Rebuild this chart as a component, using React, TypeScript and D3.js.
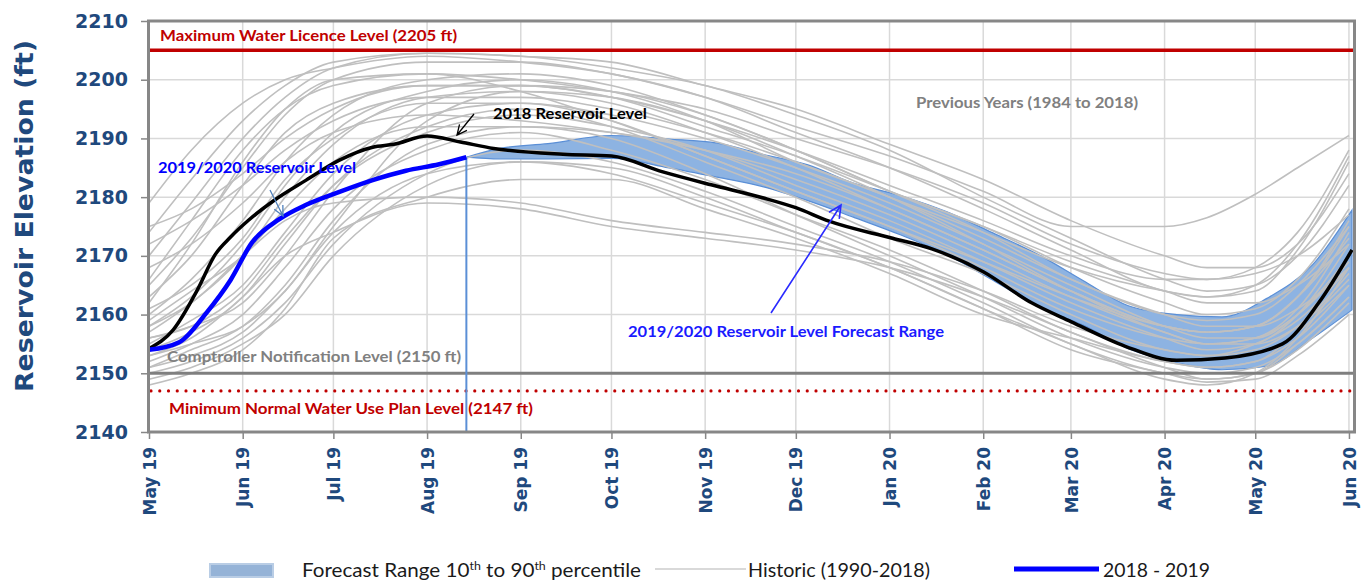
import React, { useRef, useEffect } from 'react';
import * as d3 from 'd3';

// axis ticks
const monthTicks = [
  '2019-05-01', '2019-06-01', '2019-07-01', '2019-08-01', '2019-09-01', '2019-10-01', '2019-11-01',
  '2019-12-01', '2020-01-01', '2020-02-01', '2020-03-01', '2020-04-01', '2020-05-01', '2020-06-01',
];
const monthLabels = [
  'May 19', 'Jun 19', 'Jul 19', 'Aug 19', 'Sep 19', 'Oct 19', 'Nov 19',
  'Dec 19', 'Jan 20', 'Feb 20', 'Mar 20', 'Apr 20', 'May 20', 'Jun 20',
];
const elevationTicks = [2140, 2150, 2160, 2170, 2180, 2190, 2200, 2210];

// reference levels (ft)
const maxLicenceLevel = 2205;
const comptrollerLevel = 2150;
const minWaterUseLevel = 2147;

// 2018 reservoir level (black)
const level2018: [string, number][] = [
  ['2019-05-01', 2154.2], ['2019-05-09', 2157.4], ['2019-05-17', 2164.2], ['2019-05-23', 2170.3],
  ['2019-05-28', 2173.2], ['2019-06-03', 2176.1], ['2019-06-11', 2179.3], ['2019-06-22', 2182.9],
  ['2019-07-03', 2186.3], ['2019-07-14', 2188.5], ['2019-07-21', 2189.0], ['2019-08-01', 2190.4],
  ['2019-08-12', 2189.4], ['2019-08-23', 2188.3], ['2019-09-15', 2187.3], ['2019-10-01', 2187.0],
  ['2019-10-18', 2184.3], ['2019-11-03', 2182.1], ['2019-11-20', 2179.9], ['2019-12-01', 2178.2],
  ['2019-12-12', 2175.9], ['2020-01-02', 2173.0], ['2020-01-15', 2171.2], ['2020-02-01', 2167.3],
  ['2020-02-17', 2162.0], ['2020-03-01', 2158.8], ['2020-03-19', 2154.6], ['2020-04-05', 2152.2],
  ['2020-04-21', 2152.6], ['2020-05-10', 2155.0], ['2020-05-22', 2162.0], ['2020-06-02', 2171.0],
];

// 2019/2020 observed level (blue)
const level2019: [string, number][] = [
  ['2019-05-01', 2154.0], ['2019-05-11', 2155.3], ['2019-05-20', 2160.3], ['2019-05-28', 2165.9],
  ['2019-06-04', 2172.2], ['2019-06-13', 2176.2], ['2019-06-22', 2178.7], ['2019-07-03', 2180.9],
  ['2019-07-14', 2182.9], ['2019-07-25', 2184.5], ['2019-08-05', 2185.6], ['2019-08-14', 2186.8],
];

// forecast range 10th - 90th percentile
const forecastDates = [
  '2019-08-14', '2019-08-25', '2019-09-10', '2019-10-01', '2019-10-20', '2019-11-05', '2019-11-20',
  '2019-12-05', '2019-12-20', '2020-01-05', '2020-01-20', '2020-02-05', '2020-02-20', '2020-03-05',
  '2020-03-20', '2020-04-05', '2020-04-20', '2020-05-05', '2020-05-20', '2020-06-02',
];
const forecastLow = [
  2186.8, 2186.5, 2186.5, 2186.6, 2185.0, 2183.4, 2181.8, 2179.4, 2176.6, 2173.5,
  2170.2, 2165.6, 2161.2, 2158.2, 2154.2, 2151.8, 2150.6, 2151.2, 2156.0, 2160.8,
];
const forecastHigh = [
  2186.8, 2188.3, 2189.1, 2190.5, 2189.9, 2189.2, 2187.3, 2185.5, 2182.4, 2180.2,
  2177.5, 2173.7, 2170.0, 2165.8, 2161.5, 2160.0, 2159.6, 2162.8, 2168.5, 2177.8,
];

// previous years (grey)
const historicDates = [
  '2019-05-01', '2019-05-15', '2019-06-01', '2019-06-15', '2019-07-01', '2019-08-01', '2019-09-01',
  '2019-10-01', '2019-11-01', '2019-12-01', '2020-01-01', '2020-02-01', '2020-03-01', '2020-04-01',
  '2020-04-15', '2020-05-01', '2020-05-15', '2020-06-01',
];
const historicYears = [
  [2179, 2188, 2196, 2200, 2202, 2204, 2203, 2201, 2197, 2192, 2187, 2181, 2175, 2175, 2176.5, 2180.5, 2185, 2190.5],
  [2174, 2183, 2193, 2199, 2203, 2204.5, 2204, 2203, 2199, 2195, 2189, 2183, 2176, 2170, 2168, 2168, 2172, 2184],
  [2170, 2179, 2190, 2197, 2202, 2204.5, 2204, 2202, 2199, 2194, 2188, 2180, 2173, 2166, 2164, 2165, 2170, 2182],
  [2165, 2173, 2185, 2194, 2200, 2203, 2203, 2201, 2197, 2191, 2185, 2178, 2171, 2164, 2163, 2164, 2171, 2186],
  [2162, 2172, 2186, 2195, 2200, 2201, 2198, 2193, 2187, 2181, 2175, 2169, 2163, 2158, 2157, 2158, 2163, 2175],
  [2160, 2166, 2176, 2186, 2194, 2200, 2201, 2199, 2194, 2188, 2181, 2175, 2168, 2162, 2160, 2161, 2166, 2178],
  [2158, 2163, 2172, 2182, 2191, 2198, 2200, 2198, 2193, 2186, 2180, 2173, 2166, 2160, 2159, 2160, 2165, 2175],
  [2157, 2162, 2170, 2180, 2189, 2197, 2198, 2196, 2191, 2185, 2178, 2171, 2164, 2158, 2157, 2158, 2163, 2173],
  [2156, 2158, 2162, 2170, 2181, 2196, 2199, 2198, 2194, 2188, 2181, 2174, 2166, 2160, 2158, 2158, 2161, 2168],
  [2155, 2159, 2165, 2174, 2184, 2194, 2196, 2193, 2187, 2181, 2175, 2168, 2161, 2156, 2155, 2156, 2160, 2170],
  [2154, 2157, 2163, 2172, 2182, 2192, 2195, 2192, 2186, 2180, 2173, 2167, 2160, 2154, 2153, 2155, 2159, 2168],
  [2153, 2155, 2158, 2164, 2175, 2193, 2198, 2197, 2193, 2187, 2180, 2172, 2164, 2157, 2155, 2155, 2158, 2166],
  [2152, 2155, 2160, 2168, 2178, 2188, 2191, 2188, 2183, 2177, 2171, 2164, 2157, 2152, 2151, 2152, 2156, 2165],
  [2151, 2154, 2158, 2165, 2176, 2189, 2192, 2190, 2184, 2177, 2170, 2163, 2156, 2151, 2150, 2151, 2155, 2163],
  [2150, 2152, 2156, 2162, 2172, 2184, 2188, 2186, 2181, 2175, 2169, 2162, 2155, 2150, 2149, 2150, 2154, 2162],
  [2149, 2151, 2155, 2160, 2170, 2182, 2186, 2185, 2180, 2174, 2168, 2161, 2154, 2150, 2148.5, 2149, 2153, 2160],
  [2148, 2150, 2154, 2161, 2173, 2180, 2183, 2183, 2178, 2173, 2167, 2160, 2156, 2152, 2151, 2152, 2157, 2165],
  [2158, 2162, 2170, 2176, 2179, 2180, 2179, 2176, 2174, 2172, 2169, 2164, 2158, 2154, 2153, 2154, 2158, 2167],
  [2153, 2156, 2163, 2170, 2174, 2179, 2178, 2175, 2173, 2171, 2168, 2163, 2157, 2151, 2149, 2150, 2155, 2163],
  [2175, 2178, 2184, 2190, 2195, 2199, 2199, 2197, 2193, 2188, 2182, 2176, 2170, 2166, 2166, 2168, 2174, 2188],
  [2172, 2176, 2182, 2188, 2193, 2197, 2197, 2195, 2191, 2186, 2180, 2174, 2168, 2164, 2163, 2165, 2172, 2187],
  [2166, 2176, 2188, 2195, 2199, 2201, 2200, 2198, 2195, 2190, 2185, 2179, 2172, 2167, 2166, 2167, 2170, 2177],
  [2163, 2170, 2182, 2191, 2196, 2199, 2199, 2197, 2192, 2187, 2181, 2175, 2169, 2164, 2162, 2162, 2165, 2172],
  [2161, 2165, 2173, 2183, 2190, 2196, 2196, 2194, 2190, 2185, 2179, 2172, 2165, 2158, 2156, 2156, 2160, 2169],
  [2159, 2164, 2170, 2178, 2186, 2192, 2192, 2191, 2188, 2183, 2177, 2170, 2163, 2157, 2155, 2156, 2161, 2174],
  [2156, 2158, 2164, 2173, 2182, 2191, 2194, 2192, 2188, 2182, 2176, 2169, 2162, 2156, 2154, 2155, 2160, 2172],
  [2151, 2153, 2157, 2164, 2174, 2184, 2186, 2184, 2179, 2174, 2168, 2161, 2155, 2149, 2148, 2150, 2156, 2168],
  [2168, 2172, 2179, 2186, 2191, 2194, 2193, 2191, 2188, 2184, 2178, 2171, 2164, 2158, 2157, 2158, 2163, 2176],
];

const NAVY = '#1f497d';
const RED = '#c00000';
const LABEL_FONT = 'Lato, "Open Sans", sans-serif';

const App = () => {
  const chartRef = useRef<SVGSVGElement>(null);

  useEffect(() => {
    const svg = d3.select(chartRef.current);
    svg.selectAll('*').remove();

    const parse = d3.timeParse('%Y-%m-%d');
    const x = d3
      .scaleTime()
      .domain([parse('2019-05-01') as Date, parse('2020-06-03') as Date])
      .range([149, 1355]);
    const y = d3.scaleLinear().domain([2140, 2210]).range([432, 21]);
    const [x0, x1] = x.range();

    // gridlines
    const grid = svg.append('g');
    grid
      .selectAll('line.v')
      .data(monthTicks.slice(1))
      .join('line')
      .attr('x1', (d) => x(parse(d) as Date))
      .attr('x2', (d) => x(parse(d) as Date))
      .attr('y1', y(2210))
      .attr('y2', y(2140))
      .style('stroke', '#d9d9d9')
      .style('stroke-width', 1.5);
    grid
      .selectAll('line.h')
      .data(elevationTicks)
      .join('line')
      .attr('x1', x0)
      .attr('x2', x1)
      .attr('y1', (d) => y(d))
      .attr('y2', (d) => y(d))
      .style('stroke', '#d9d9d9')
      .style('stroke-width', 1.5);

    // forecast band
    const band = d3
      .area<string>()
      .x((d) => x(parse(d) as Date))
      .y0((d, i) => y(forecastLow[i]))
      .y1((d, i) => y(forecastHigh[i]))
      .curve(d3.curveMonotoneX);
    svg
      .append('path')
      .datum(forecastDates)
      .attr('d', band)
      .style('fill', '#8db3e2')
      .style('stroke', '#5b8fd6')
      .style('stroke-width', 1.2);

    // previous years
    const histLine = d3
      .line<number>()
      .x((d, i) => x(parse(historicDates[i]) as Date))
      .y((d) => y(d))
      .curve(d3.curveMonotoneX);
    svg
      .append('g')
      .selectAll('path')
      .data(historicYears)
      .join('path')
      .attr('d', histLine)
      .style('fill', 'none')
      .style('stroke', '#bfbfbf')
      .style('stroke-width', 1.6);

    // reference levels
    svg
      .append('line')
      .attr('x1', x0)
      .attr('x2', x1)
      .attr('y1', y(comptrollerLevel))
      .attr('y2', y(comptrollerLevel))
      .style('stroke', '#7f7f7f')
      .style('stroke-width', 3);
    svg
      .append('line')
      .attr('x1', x0 + 2)
      .attr('x2', x1)
      .attr('y1', y(minWaterUseLevel))
      .attr('y2', y(minWaterUseLevel))
      .style('stroke', RED)
      .style('stroke-width', 3.2)
      .style('stroke-linecap', 'round')
      .style('stroke-dasharray', '0 8.75');
    svg
      .append('line')
      .attr('x1', x0)
      .attr('x2', x1)
      .attr('y1', y(maxLicenceLevel))
      .attr('y2', y(maxLicenceLevel))
      .style('stroke', RED)
      .style('stroke-width', 3.5);

    // reservoir levels
    const pairLine = d3
      .line<[string, number]>()
      .x((d) => x(parse(d[0]) as Date))
      .y((d) => y(d[1]))
      .curve(d3.curveMonotoneX);

    const lastObs = level2019[level2019.length - 1];
    svg
      .append('line')
      .attr('x1', x(parse(lastObs[0]) as Date))
      .attr('x2', x(parse(lastObs[0]) as Date))
      .attr('y1', y(lastObs[1]))
      .attr('y2', y(2140))
      .style('stroke', '#5b8fd6')
      .style('stroke-width', 2);

    svg
      .append('path')
      .datum(level2018)
      .attr('d', pairLine)
      .style('fill', 'none')
      .style('stroke', '#000')
      .style('stroke-width', 3.5);
    svg
      .append('path')
      .datum(level2019)
      .attr('d', pairLine)
      .style('fill', 'none')
      .style('stroke', '#0000ff')
      .style('stroke-width', 4.5);

    // plot frame
    svg
      .append('rect')
      .attr('x', x0 - 0.5)
      .attr('y', y(2210))
      .attr('width', x1 - x0)
      .attr('height', y(2140) - y(2210))
      .style('fill', 'none')
      .style('stroke', '#878787')
      .style('stroke-width', 3);

    // axes
    const yAxis = d3.axisLeft(y).tickValues(elevationTicks).tickSize(7).tickPadding(13).tickFormat(d3.format('d'));
    const gy = svg.append('g').attr('transform', `translate(${x0 - 1},0)`).call(yAxis);
    gy.select('.domain').remove();
    gy.selectAll('line').style('stroke', '#878787').style('stroke-width', 1.5);
    gy.selectAll('text')
      .style('font-family', '"DejaVu Sans", sans-serif')
      .style('font-weight', 'bold')
      .style('font-size', '19px')
      .style('fill', NAVY);

    const xAxis = d3
      .axisBottom(x)
      .tickValues(monthTicks.map((d) => parse(d) as Date))
      .tickSize(7)
      .tickFormat((d, i) => monthLabels[i]);
    const gx = svg.append('g').attr('transform', `translate(0,${y(2140)})`).call(xAxis);
    gx.select('.domain').remove();
    gx.selectAll('line').style('stroke', '#878787').style('stroke-width', 1.5);
    gx.selectAll('text')
      .attr('transform', 'rotate(-90)')
      .attr('x', -15)
      .attr('y', 0)
      .attr('dy', '0.36em')
      .style('text-anchor', 'end')
      .style('font-family', '"DejaVu Sans", sans-serif')
      .style('font-weight', 'bold')
      .style('font-size', '17px')
      .style('fill', NAVY);

    svg
      .append('text')
      .attr('transform', 'translate(33,216) rotate(-90)')
      .attr('text-anchor', 'middle')
      .attr('textLength', 352)
      .attr('lengthAdjust', 'spacingAndGlyphs')
      .style('font-family', '"DejaVu Sans", sans-serif')
      .style('font-weight', 'bold')
      .style('font-size', '25px')
      .style('fill', NAVY)
      .text('Reservoir Elevation (ft)');

    // annotations
    const notes = [
      { text: 'Maximum Water Licence Level (2205 ft)', x: 160, y: 41, w: 297, color: RED },
      { text: 'Comptroller Notification Level (2150 ft)', x: 167, y: 362, w: 294, color: '#808080' },
      { text: 'Minimum Normal Water Use Plan Level (2147 ft)', x: 169, y: 414, w: 364, color: RED },
      { text: 'Previous Years (1984 to 2018)', x: 916, y: 108, w: 222, color: '#808080' },
      { text: '2018 Reservoir Level', x: 493, y: 119, w: 154, color: '#000' },
      { text: '2019/2020 Reservoir Level', x: 158, y: 173, w: 198, color: '#0000ff' },
      { text: '2019/2020 Reservoir Level Forecast Range', x: 628, y: 337, w: 316, color: '#1a1aff' },
    ];
    svg
      .append('g')
      .selectAll('text')
      .data(notes)
      .join('text')
      .attr('x', (d) => d.x)
      .attr('y', (d) => d.y)
      .attr('textLength', (d) => d.w)
      .attr('lengthAdjust', 'spacingAndGlyphs')
      .style('font-family', LABEL_FONT)
      .style('font-weight', 'bold')
      .style('font-size', '15.5px')
      .style('fill', (d) => d.color)
      .text((d) => d.text);

    const arrow = (ax: number, ay: number, bx: number, by: number, color: string, width: number, head: number) => {
      const ang = Math.atan2(by - ay, bx - ax);
      const a1 = ang + Math.PI - 0.45;
      const a2 = ang + Math.PI + 0.45;
      svg
        .append('path')
        .attr(
          'd',
          `M${ax},${ay}L${bx},${by}M${bx + head * Math.cos(a1)},${by + head * Math.sin(a1)}L${bx},${by}L${
            bx + head * Math.cos(a2)
          },${by + head * Math.sin(a2)}`
        )
        .style('fill', 'none')
        .style('stroke', color)
        .style('stroke-width', width);
    };
    arrow(474, 114, 457, 135, '#000', 1.3, 11);
    arrow(270, 190, 283, 216, '#4f81bd', 1.3, 11);
    arrow(771, 313, 841, 205, '#2a2aff', 1.6, 14);

    // legend
    const legend = svg.append('g').style('font-family', LABEL_FONT).style('font-size', '20px').style('fill', '#1a1a1a');
    legend
      .append('rect')
      .attr('x', 210)
      .attr('y', 564)
      .attr('width', 63)
      .attr('height', 13)
      .style('fill', '#95b3d7')
      .style('stroke', '#b9cde5')
      .style('stroke-width', 2);
    const t1 = legend
      .append('text')
      .attr('x', 302)
      .attr('y', 577)
      .attr('textLength', 339)
      .attr('lengthAdjust', 'spacingAndGlyphs');
    t1.append('tspan').text('Forecast Range 10');
    t1.append('tspan').attr('dy', -7).style('font-size', '12px').text('th');
    t1.append('tspan').attr('dy', 7).text(' to 90');
    t1.append('tspan').attr('dy', -7).style('font-size', '12px').text('th');
    t1.append('tspan').attr('dy', 7).text(' percentile');

    legend
      .append('line')
      .attr('x1', 655)
      .attr('x2', 746)
      .attr('y1', 569)
      .attr('y2', 569)
      .style('stroke', '#d9d9d9')
      .style('stroke-width', 2);
    legend
      .append('text')
      .attr('x', 748)
      .attr('y', 577)
      .attr('textLength', 182)
      .attr('lengthAdjust', 'spacingAndGlyphs')
      .text('Historic (1990-2018)');

    legend
      .append('line')
      .attr('x1', 1014)
      .attr('x2', 1099)
      .attr('y1', 569)
      .attr('y2', 569)
      .style('stroke', '#0000ff')
      .style('stroke-width', 5);
    legend
      .append('text')
      .attr('x', 1103)
      .attr('y', 577)
      .attr('textLength', 107)
      .attr('lengthAdjust', 'spacingAndGlyphs')
      .text('2018 - 2019');
  }, []);

  return (
    <svg
      ref={chartRef}
      width={1369}
      height={580}
      style={{ position: 'absolute', left: 0, top: 0, background: '#fff', display: 'block' }}
    ></svg>
  );
};

export default App;
